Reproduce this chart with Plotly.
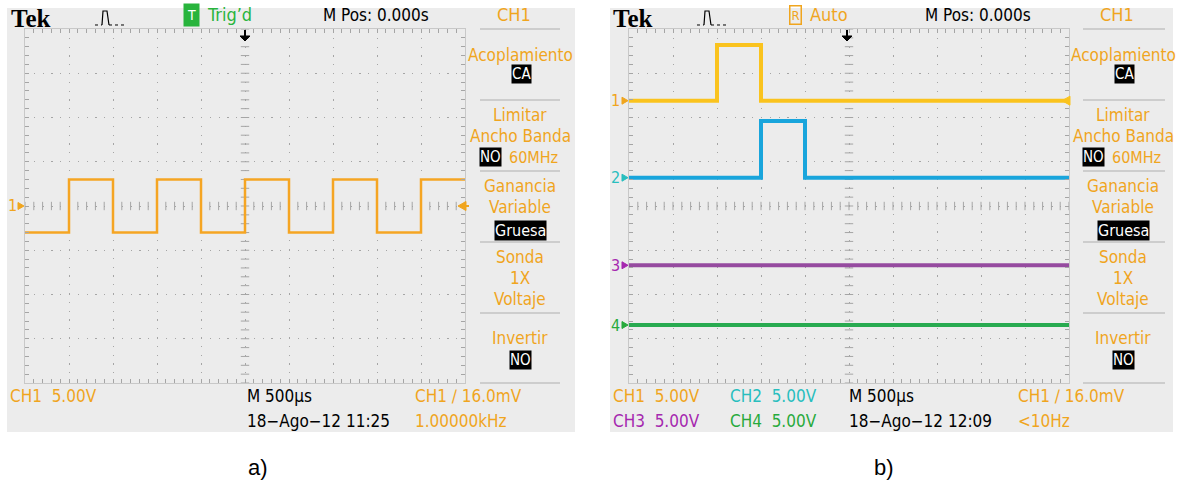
import numpy as np
import plotly.graph_objects as go

W, H = 1177, 487

# ---------------- data ----------------
# panel a: CH1 square wave (time in microseconds, volts)
time_a_us = [-2500, -2000, -1500, -1000, -500, 0, 500, 1000, 1500, 2000, 2500]
ch1_a_v = [-3.0, 3.0, -3.0, 3.0, -3.0, 3.0, -3.0, 3.0, -3.0, 3.0, 3.0]

# panel b: four channels (time in microseconds, volts relative to channel ground)
time_b_us = [-2500, -1500, -1000, -500, 2500]
ch1_b_v = [0.0, 6.3, 0.0, 0.0, 0.0]
ch2_b_v = [0.0, 0.0, 6.4, 0.0, 0.0]
ch3_b_v = [0.0, 0.0, 0.0, 0.0, 0.0]
ch4_b_v = [0.0, 0.0, 0.0, 0.0, 0.0]
# channel ground markers (in volts on the 5 V/div screen)
ground_b_v = [11.9, 3.2, -6.7, -13.45]

time_range_us = [-2500, 2500]
volt_range = [-20, 20]

# ---------------- styles ----------------
ORANGE = "rgb(240,165,30)"
TRACE_A = "rgb(245,165,35)"
C1 = "rgb(250,195,30)"
C2 = "rgb(25,165,220)"
C3 = "rgb(150,75,160)"
C4 = "rgb(40,170,80)"
GRAY_BG = "rgb(236,236,236)"
GRIDC = "rgb(165,165,165)"
FONT = "DejaVu Sans Condensed, Liberation Sans Narrow, Arial Narrow, sans-serif"


def X(p):
    return p / W


def Y(p):
    return 1 - p / H


fig = go.Figure()

panels = [
    dict(x0=7, x1=575, gx0=25, gx1=465, xa="x", ya="y"),
    dict(x0=610, x1=1173, gx0=629, gx1=1069, xa="x2", ya="y2"),
]
GY0, GY1 = 29, 383

# center cross minor ticks
minor_x = np.arange(time_range_us[0], time_range_us[1] + 1, 100)
minor_y = np.arange(volt_range[0], volt_range[1] + 0.01, 1.0)
for p in panels:
    fig.add_trace(go.Scatter(x=minor_x, y=[0] * len(minor_x), mode="markers",
                             marker=dict(symbol="line-ns", size=6, line=dict(color=GRIDC, width=1)),
                             xaxis=p["xa"], yaxis=p["ya"], showlegend=False, hoverinfo="skip"))
    fig.add_trace(go.Scatter(x=[0] * len(minor_y), y=minor_y, mode="markers",
                             marker=dict(symbol="line-ew", size=6, line=dict(color=GRIDC, width=1)),
                             xaxis=p["xa"], yaxis=p["ya"], showlegend=False, hoverinfo="skip"))

# signal traces
fig.add_trace(go.Scatter(x=time_a_us, y=ch1_a_v, mode="lines", line=dict(color=TRACE_A, width=2.5, shape="hv"),
                         xaxis="x", yaxis="y", showlegend=False, hoverinfo="skip"))
for vals, g, col in [(ch1_b_v, ground_b_v[0], C1), (ch2_b_v, ground_b_v[1], C2),
                     (ch3_b_v, ground_b_v[2], C3), (ch4_b_v, ground_b_v[3], C4)]:
    fig.add_trace(go.Scatter(x=time_b_us, y=[v + g for v in vals], mode="lines",
                             line=dict(color=col, width=4, shape="hv"),
                             xaxis="x2", yaxis="y2", showlegend=False, hoverinfo="skip"))

shapes = []
anns = []

for p in panels:
    shapes.append(dict(type="rect", xref="paper", yref="paper", x0=X(p["x0"]), x1=X(p["x1"]),
                       y0=Y(432), y1=Y(8), fillcolor=GRAY_BG, line=dict(width=0), layer="below"))

axis_common = dict(showgrid=True, gridcolor=GRIDC, gridwidth=1, griddash="1.2px,7.6px",
                   zeroline=False, showticklabels=False, ticks="inside", ticklen=4, tickcolor=GRIDC,
                   showline=True, linecolor="rgb(200,200,200)", linewidth=1, mirror="allticks",
                   fixedrange=True)

layout_axes = {}
for i, p in enumerate(panels):
    sfx = "" if i == 0 else "2"
    layout_axes["xaxis" + sfx] = dict(axis_common, range=time_range_us, dtick=500, tick0=0,
                                      domain=[X(p["gx0"]), X(p["gx1"])], anchor="y" + sfx,
                                      minor=dict(dtick=100, ticks="inside", ticklen=4, tickcolor=GRIDC, showgrid=False))
    layout_axes["yaxis" + sfx] = dict(axis_common, range=volt_range, dtick=5, tick0=0,
                                      domain=[Y(GY1), Y(GY0)], anchor="x" + sfx,
                                      minor=dict(dtick=1, ticks="inside", ticklen=4, tickcolor=GRIDC, showgrid=False))


def ann(text, x, y, color="black", size=16, xanchor="left", family=FONT, bg=None, border=None, pad=1):
    d = dict(text=text, x=X(x), y=Y(y), xref="paper", yref="paper", showarrow=False,
             xanchor=xanchor, yanchor="middle", font=dict(color=color, size=size, family=family),
             borderpad=pad)
    if bg:
        d["bgcolor"] = bg
    if border:
        d["bordercolor"] = border
        d["borderwidth"] = 1.5
    anns.append(d)


def path(pts, color, width=1, fill=None, dash=None, close=False):
    s = "M " + " L ".join(f"{X(a):.5f},{Y(b):.5f}" for a, b in pts)
    if close:
        s += " Z"
    d = dict(type="path", xref="paper", yref="paper", path=s, line=dict(color=color, width=width))
    if fill:
        d["fillcolor"] = fill
    if dash:
        d["line"]["dash"] = dash
    shapes.append(d)


def header(ox):
    ann("<b>Tek</b>", 9 + ox, 19, "black", 25, family="Liberation Serif, DejaVu Serif, serif")
    # pulse icon
    path([(95 + ox, 25), (102 + ox, 25)], "black", 1, dash="dot")
    path([(102 + ox, 25), (103 + ox, 11), (107 + ox, 11), (109 + ox, 25)], "black", 1.2)
    path([(109 + ox, 25), (126 + ox, 25)], "black", 1, dash="dot")
    # trigger position arrow
    path([(245 + ox, 30), (245 + ox, 37)], "black", 2)
    path([(240 + ox, 36), (250 + ox, 36), (245 + ox, 41)], "black", 1, fill="black", close=True)


# ---------- panel a ----------
header(0)
ann("T", 191, 15, "white", 14, xanchor="center", bg="rgb(40,180,60)", pad=3)
ann("Trig’d", 205, 15, "rgb(40,180,60)", 18)
ann("M Pos: 0.000s", 376, 15, "black", 17, xanchor="center")

# ---------- panel b ----------
header(602)
ann("R", 795, 15, ORANGE, 13, xanchor="center", border=ORANGE, pad=1)
ann("Auto", 808, 15, ORANGE, 18)
ann("M Pos: 0.000s", 978, 15, "black", 17, xanchor="center")


def side_menu(cx, sx0, sx1):
    ann("CH1", cx - 6, 15, ORANGE, 18, xanchor="center")
    for yy in [29, 100, 171, 242, 313, 383]:
        shapes.append(dict(type="line", xref="paper", yref="paper", x0=X(sx0), x1=X(sx1), y0=Y(yy), y1=Y(yy),
                           line=dict(color="rgb(195,195,195)", width=1.5)))
    ann("Acoplamiento", cx, 55, ORANGE, 17, xanchor="center")
    ann("CA", cx + 1, 74, "white", 15, xanchor="center", bg="black", pad=0)
    ann("Limitar", cx, 115, ORANGE, 17, xanchor="center")
    ann("Ancho Banda", cx, 136, ORANGE, 17, xanchor="center")
    ann("NO", cx - 30, 157, "white", 15, xanchor="center", bg="black", pad=0)
    ann("60MHz", cx - 13, 157, ORANGE, 16)
    ann("Ganancia", cx, 186, ORANGE, 17, xanchor="center")
    ann("Variable", cx, 207, ORANGE, 17, xanchor="center")
    ann("Gruesa", cx, 230, "white", 16, xanchor="center", bg="black", pad=0)
    ann("Sonda", cx, 257, ORANGE, 17, xanchor="center")
    ann("1X", cx, 278, ORANGE, 17, xanchor="center")
    ann("Voltaje", cx, 299, ORANGE, 17, xanchor="center")
    ann("Invertir", cx, 338, ORANGE, 17, xanchor="center")
    ann("NO", cx, 360, "white", 15, xanchor="center", bg="black", pad=0)


side_menu(520, 480, 560)
side_menu(1123, 1083, 1165)

# bottom texts a
ann("CH1  5.00V", 8, 396, ORANGE, 17)
ann("M 500µs", 245, 396, "black", 17)
ann("18−Ago−12 11:25", 245, 421, "black", 17)
ann("CH1 ∕ 16.0mV", 413, 396, ORANGE, 17)
ann("1.00000kHz", 413, 421, ORANGE, 17)

# bottom texts b
ann("CH1  5.00V", 611, 396, ORANGE, 17)
ann("CH2  5.00V", 728, 396, "rgb(40,190,190)", 17)
ann("CH3  5.00V", 611, 421, "rgb(165,40,175)", 17)
ann("CH4  5.00V", 728, 421, "rgb(40,170,60)", 17)
ann("M 500µs", 847, 396, "black", 17)
ann("18−Ago−12 12:09", 847, 421, "black", 17)
ann("CH1 ∕ 16.0mV", 1016, 396, ORANGE, 17)
ann("&lt;10Hz", 1016, 421, ORANGE, 17)


def py_of(v):
    return 206 - v * (354 / 40)


def ch_marker(num, y, x_edge, color):
    ann(str(num), x_edge - 13, y, color, 16, xanchor="center")
    path([(x_edge - 7, y - 3.5), (x_edge - 1, y), (x_edge - 7, y + 3.5)], color, 1, fill=color, close=True)


ch_marker(1, 206, 25, ORANGE)
path([(458, 206), (466, 201.5), (466, 210.5)], ORANGE, 1, fill=ORANGE, close=True)
path([(466, 206), (469, 206)], ORANGE, 2)

lblc = [ORANGE, "rgb(40,190,190)", "rgb(165,40,175)", "rgb(40,170,60)"]
for k in range(4):
    ch_marker(k + 1, py_of(ground_b_v[k]), 629, lblc[k])
yb1 = py_of(ground_b_v[0])
path([(1062, yb1), (1070, yb1 - 4.5), (1070, yb1 + 4.5)], C1, 1, fill=C1, close=True)

# captions
ann("a)", 258, 467, "black", 22, xanchor="center", family="Liberation Sans, Arial, sans-serif")
ann("b)", 884, 467, "black", 22, xanchor="center", family="Liberation Sans, Arial, sans-serif")

fig.update_layout(width=W, height=H, margin=dict(l=0, r=0, t=0, b=0), autosize=False,
                  paper_bgcolor="white", plot_bgcolor="white", shapes=shapes, annotations=anns,
                  showlegend=False, **layout_axes)

fig.write_html("out.html", config={"displayModeBar": False},
               post_script="document.body.style.margin='0';document.body.style.overflow='hidden';")
